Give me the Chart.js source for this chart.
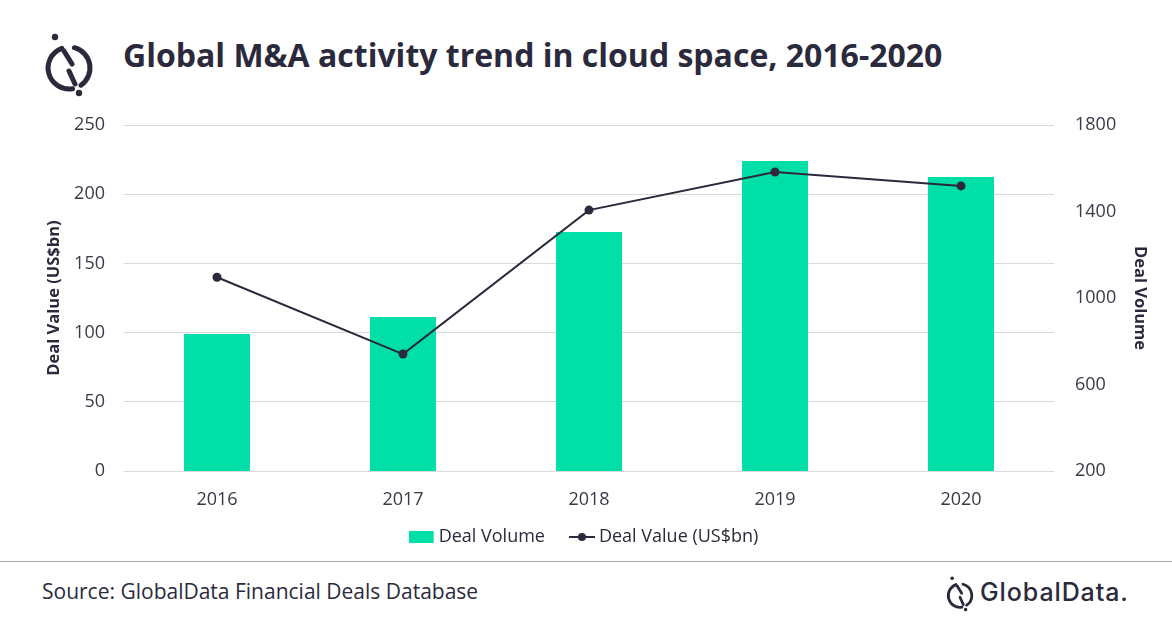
<!DOCTYPE html>
<html>
<head>
<meta charset="utf-8">
<title>Global M&amp;A activity trend in cloud space, 2016-2020</title>
<script src="https://cdn.jsdelivr.net/npm/chart.js@4.4.1/dist/chart.umd.min.js"></script>
<style>
  html,body{margin:0;padding:0;background:#fff;}
  body{width:1172px;height:628px;position:relative;overflow:hidden;font-family:"Open Sans",sans-serif;color:#2b2a3c;}
  #chartBox{position:absolute;left:0;top:0;width:1172px;height:561px;}
  .title{position:absolute;left:123px;top:39px;font-size:32px;line-height:1;font-weight:700;white-space:nowrap;}
  .rule{position:absolute;left:0;top:561px;width:1172px;height:1px;background:#a6a6a6;}
  .source{position:absolute;left:42px;top:581px;font-size:21px;line-height:1;white-space:nowrap;}
  .brand{position:absolute;left:980px;top:580px;font-family:Inter,sans-serif;font-size:25px;font-weight:500;line-height:1;letter-spacing:0.9px;white-space:nowrap;}
  .logo{position:absolute;}
</style>
</head>
<body>
<svg class="logo" style="left:44px;top:33px" width="50" height="65" viewBox="0 0 50 65">
  <g fill="none" stroke="#2b2a3c" stroke-width="5" stroke-linecap="round">
    <path d="M30.4 14.7 A21 21 0 0 1 37 52.2"/>
    <path d="M28.6 55.7 A21 21 0 0 1 17.8 15.3"/>
    <path d="M20 18 L28 31"/>
    <path d="M25 38 L31 51"/>
  </g>
  <circle cx="11" cy="4" r="3.2" fill="#2b2a3c"/>
  <circle cx="35" cy="60" r="3.2" fill="#2b2a3c"/>
</svg>
<div class="title">Global M&amp;A activity trend in cloud space, 2016-2020</div>
<div id="chartBox"><canvas id="chart" width="1172" height="561"></canvas></div>
<div class="rule"></div>
<div class="source">Source: GlobalData Financial Deals Database</div>
<svg class="logo" style="left:946px;top:576px" width="28" height="36.4" viewBox="0 0 50 65">
  <g fill="none" stroke="#2b2a3c" stroke-width="5" stroke-linecap="round">
    <path d="M30.4 14.7 A21 21 0 0 1 37 52.2"/>
    <path d="M28.6 55.7 A21 21 0 0 1 17.8 15.3"/>
    <path d="M20 18 L28 31"/>
    <path d="M25 38 L31 51"/>
  </g>
  <circle cx="11" cy="4" r="3.2" fill="#2b2a3c"/>
  <circle cx="35" cy="60" r="3.2" fill="#2b2a3c"/>
</svg>
<div class="brand">GlobalData.</div>

<script>
// DATA
const years=["2016","2017","2018","2019","2020"];
const dealVolume=[833,912,1305,1633,1560];
const dealValue=[140,84.5,188.5,216,206];
const valueTicks=[0,50,100,150,200,250];
const volumeTicks=[200,600,1000,1400,1800];

const green="#00dfa7", navy="#2b2a3c", grid="#d9d9d9", tickColor="#3a3948";

// legend keys drawn as small images
function keyImage(kind){
  const c=document.createElement("canvas");
  c.width=26; c.height=12;
  const g=c.getContext("2d");
  if(kind==="bar"){
    g.fillStyle=green; g.fillRect(0,0,25,12);
  }else{
    g.strokeStyle=navy; g.lineWidth=2;
    g.beginPath(); g.moveTo(0,6); g.lineTo(26,6); g.stroke();
    g.fillStyle=navy; g.beginPath(); g.arc(13,6,4,0,Math.PI*2); g.fill();
  }
  return c;
}
const barKey=keyImage("bar"), lineKey=keyImage("line");

new Chart(document.getElementById("chart"),{
  data:{
    labels:years,
    datasets:[
      {type:"bar",label:"Deal Volume",data:dealVolume,yAxisID:"yVol",
       backgroundColor:green,barPercentage:0.355,categoryPercentage:1,order:2},
      {type:"line",label:"Deal Value (US$bn)",data:dealValue,yAxisID:"yVal",
       borderColor:navy,borderWidth:2,pointRadius:4.5,pointBackgroundColor:navy,
       pointBorderWidth:0,tension:0,order:1}
    ]
  },
  options:{
    responsive:false,
    animation:false,
    layout:{padding:{top:125,left:0,right:0,bottom:5}},
    plugins:{
      tooltip:{enabled:false},
      legend:{
        position:"bottom",
        labels:{
          usePointStyle:true,
          pointStyleWidth:16,
          boxHeight:12,
          padding:17,
          color:navy,
          font:{family:"Open Sans",size:18},
          // trailing spaces widen the gap between the two keys
          generateLabels:()=>[
            {text:"Deal Volume\u2002\u2009",pointStyle:barKey,fillStyle:green,strokeStyle:green,lineWidth:0,datasetIndex:0,fontColor:navy},
            {text:"Deal Value (US$bn)",pointStyle:lineKey,fillStyle:navy,strokeStyle:navy,lineWidth:0,datasetIndex:1,fontColor:navy}
          ]
        }
      }
    },
    scales:{
      x:{
        grid:{display:false,drawTicks:false},
        border:{display:false},
        ticks:{color:tickColor,padding:18,font:{family:"Open Sans",size:18}},
        afterFit:s=>{s.height=40;}
      },
      yVal:{
        position:"left",min:0,max:250,
        afterBuildTicks:s=>{s.ticks=valueTicks.map(v=>({value:v}));},
        grid:{color:grid,lineWidth:1,drawTicks:false},
        border:{display:false},
        ticks:{color:tickColor,padding:19,font:{family:"Open Sans",size:18}},
        title:{display:true,text:"Deal Value (US$bn)",color:navy,padding:{top:44,bottom:0},
               font:{family:"Open Sans",size:16.5,weight:"bold"}},
        afterFit:s=>{s.width=124;}
      },
      yVol:{
        position:"right",min:200,max:1800,
        afterBuildTicks:s=>{s.ticks=volumeTicks.map(v=>({value:v}));},
        grid:{display:false,drawTicks:false},
        border:{display:false},
        ticks:{color:tickColor,padding:21,font:{family:"Open Sans",size:18},
               callback:v=>String(v)},
        title:{display:true,text:"Deal Volume",color:navy,padding:{top:22,bottom:0},
               font:{family:"Open Sans",size:16.5,weight:"bold"}},
        afterFit:s=>{s.width=118;}
      }
    }
  }
});
</script>
</body>
</html>
